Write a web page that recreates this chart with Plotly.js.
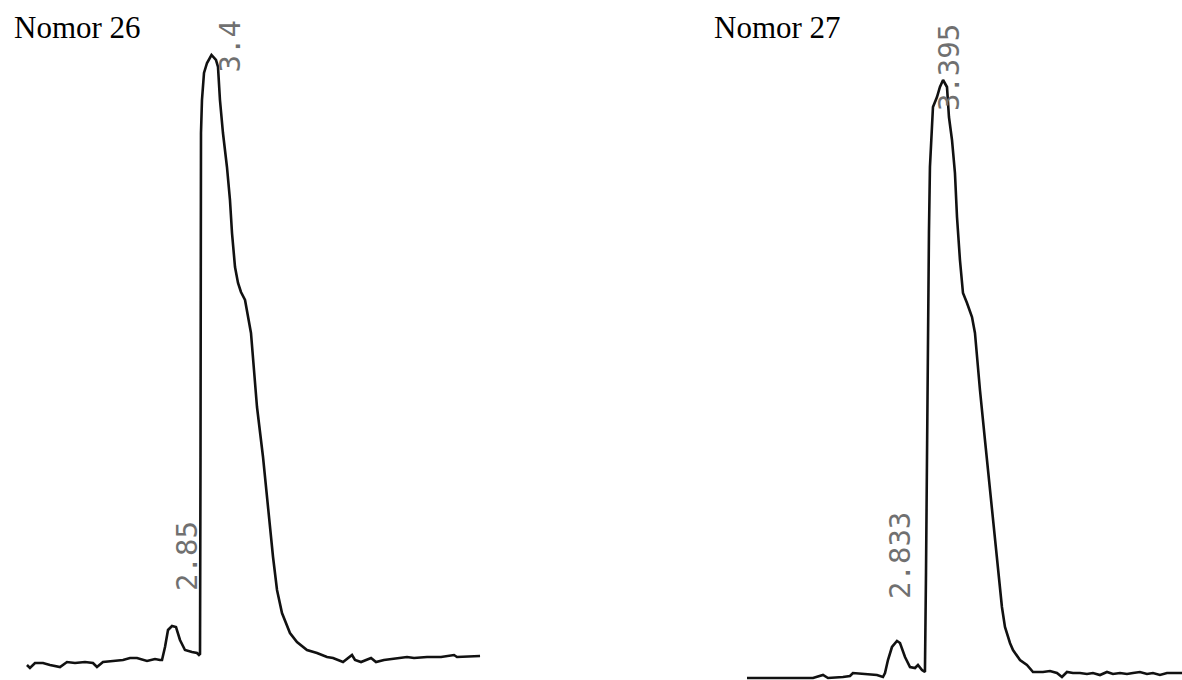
<!DOCTYPE html>
<html>
<head>
<meta charset="utf-8">
<script src="https://cdn.plot.ly/plotly-3.0.1.min.js"></script>
<style>
  html, body { margin: 0; padding: 0; background: #ffffff; }
  #chart { width: 1182px; height: 680px; }
</style>
</head>
<body>
<div id="chart"></div>
<script>
// ---- Chromatogram "Nomor 26" (retention time in minutes, detector signal in arbitrary units)
const title26 = "Nomor 26";
const rt26 = [0.764, 0.807, 0.879, 0.993, 1.093, 1.236, 1.336, 1.45, 1.593, 1.707, 1.764, 1.85, 1.993, 2.136, 2.236, 2.336, 2.479, 2.593, 2.664, 2.693,
  2.736, 2.779, 2.836, 2.893, 2.95, 3.021, 3.121, 3.193, 3.221, 3.236,
  3.243, 3.25, 3.25, 3.264, 3.293, 3.336, 3.379, 3.40,
  3.464, 3.493, 3.521, 3.564, 3.621, 3.664, 3.693, 3.736, 3.779, 3.821, 3.879, 3.921, 3.964, 4.007, 4.05, 4.136, 4.207, 4.279, 4.336, 4.407, 4.521, 4.621, 4.764, 4.907,
  5.05, 5.136, 5.279, 5.407, 5.45, 5.536, 5.679, 5.75, 5.864, 6.107, 6.193, 6.293, 6.479, 6.679, 6.864, 6.907, 7.107, 7.236];
const sig26 = [-3, -6, -1, -1, -3, -5, 0, -1, 0, -1, -5, 0, 1, 2, 4, 4, 1, 3, 2, 2,
  15, 32, 36, 35, 22, 12, 10, 9, 7, 8,
  200, 462, 529, 562, 589, 599, 605, 607,
  602, 595, 562, 529, 495, 462, 429, 395, 379, 370, 362, 347, 329, 292, 255, 205, 155, 105, 72, 49, 29, 20, 12, 9,
  5, 4, 0, 7, 2, 0, 4, 0, 2, 4, 5, 4, 5, 5, 7, 5, 6, 6];
const peakTimes26 = [2.85, 3.4];
const peakLabels26 = ["2.85", "3.4"];

// ---- Chromatogram "Nomor 27"
const title27 = "Nomor 27";
const rt27 = [1.004, 1.248, 1.565, 1.809, 1.931, 1.992, 2.174, 2.260, 2.296, 2.467, 2.589, 2.662, 2.687,
  2.723, 2.772, 2.833, 2.870, 2.931, 2.992, 3.053, 3.089, 3.138, 3.174,
  3.187, 3.199, 3.211, 3.223, 3.235, 3.260, 3.272, 3.321, 3.357, 3.395,
  3.443, 3.467, 3.504, 3.540, 3.565, 3.601, 3.638, 3.687, 3.748, 3.784, 3.809, 3.845, 3.906, 3.967, 4.028, 4.065, 4.113, 4.150, 4.211,
  4.248, 4.333, 4.418, 4.492, 4.613, 4.699, 4.784, 4.845, 4.906, 4.979, 5.065, 5.150, 5.223, 5.309, 5.394, 5.467, 5.553, 5.638, 5.711, 5.796, 5.882, 5.955, 6.040, 6.126, 6.199, 6.309];
const sig27 = [-2, -2, -2, -2, 1, -2, -1, 0, 3, 2, 1, -1, 3,
  16, 29, 35, 33, 19, 9, 8, 11, 6, 4,
  103, 236, 343, 443, 509, 549, 569, 579, 589, 596,
  589, 559, 536, 503, 459, 416, 383, 373, 359, 343, 319, 286, 236, 186, 136, 103, 69, 49, 33,
  26, 16, 11, 4, 4, 5, 3, -1, 4, 3, 3, 2, 3, 1, 4, 2, 3, 2, 3, 4, 2, 3, 1, 3, 3, 3];
const peakTimes27 = [2.833, 3.395];
const peakLabels27 = ["2.833", "3.395"];

// label offsets (pixels) from the peak apex, in the same order as the peak lists
const labelShift26 = [[14, 70], [19, 9]];
const labelShift27 = [[3, 86], [6, 12]];

function apexSignal(rt, sig, t) {
  let best = 0, bd = Infinity;
  for (let i = 0; i < rt.length; i++) {
    const d = Math.abs(rt[i] - t);
    if (d < bd || (d === bd && sig[i] > sig[best])) { bd = d; best = i; }
  }
  return sig[best];
}

const lineStyle = { color: "#111111", width: 2.6, shape: "linear" };

const traces = [
  { x: rt26, y: sig26, type: "scatter", mode: "lines", line: lineStyle, xaxis: "x", yaxis: "y", hoverinfo: "x+y", showlegend: false },
  { x: rt27, y: sig27, type: "scatter", mode: "lines", line: lineStyle, xaxis: "x2", yaxis: "y2", hoverinfo: "x+y", showlegend: false }
];

const labelFont = { family: "DejaVu Sans Mono, monospace", size: 29, color: "#707070" };
const annotations = [];
peakTimes26.forEach((t, i) => {
  annotations.push({ x: t, y: apexSignal(rt26, sig26, t), xref: "x", yref: "y", text: peakLabels26[i],
    showarrow: false, textangle: -90, font: labelFont, xanchor: "center", yanchor: "middle",
    xshift: labelShift26[i][0], yshift: labelShift26[i][1] });
});
peakTimes27.forEach((t, i) => {
  annotations.push({ x: t, y: apexSignal(rt27, sig27, t), xref: "x2", yref: "y2", text: peakLabels27[i],
    showarrow: false, textangle: -90, font: labelFont, xanchor: "center", yanchor: "middle",
    xshift: labelShift27[i][0], yshift: labelShift27[i][1] });
});
const titleFont = { family: "Liberation Serif, Times New Roman, serif", size: 31, color: "#000000" };
annotations.push({ x: 12 / 1182, y: 0.96, xref: "paper", yref: "paper", text: title26, showarrow: false,
  xanchor: "left", yanchor: "middle", font: titleFont });
annotations.push({ x: 712 / 1182, y: 0.96, xref: "paper", yref: "paper", text: title27, showarrow: false,
  xanchor: "left", yanchor: "middle", font: titleFont });

const hidden = { showgrid: false, zeroline: false, showline: false, showticklabels: false, ticks: "", fixedrange: true };

const layout = {
  width: 1182, height: 680,
  margin: { l: 0, r: 0, t: 0, b: 0 },
  paper_bgcolor: "#ffffff", plot_bgcolor: "#ffffff",
  showlegend: false,
  xaxis: Object.assign({ domain: [0, 0.5], range: [0.379, 8.821] }, hidden),
  yaxis: Object.assign({ domain: [0, 1], range: [-18, 662] }, hidden),
  xaxis2: Object.assign({ domain: [0.6, 1], range: [0.543, 6.309], anchor: "y2" }, hidden),
  yaxis2: Object.assign({ domain: [0, 1], range: [-4, 676], anchor: "x2" }, hidden),
  annotations: annotations
};

Plotly.newPlot("chart", traces, layout, { displayModeBar: false, staticPlot: true });
</script>
</body>
</html>
